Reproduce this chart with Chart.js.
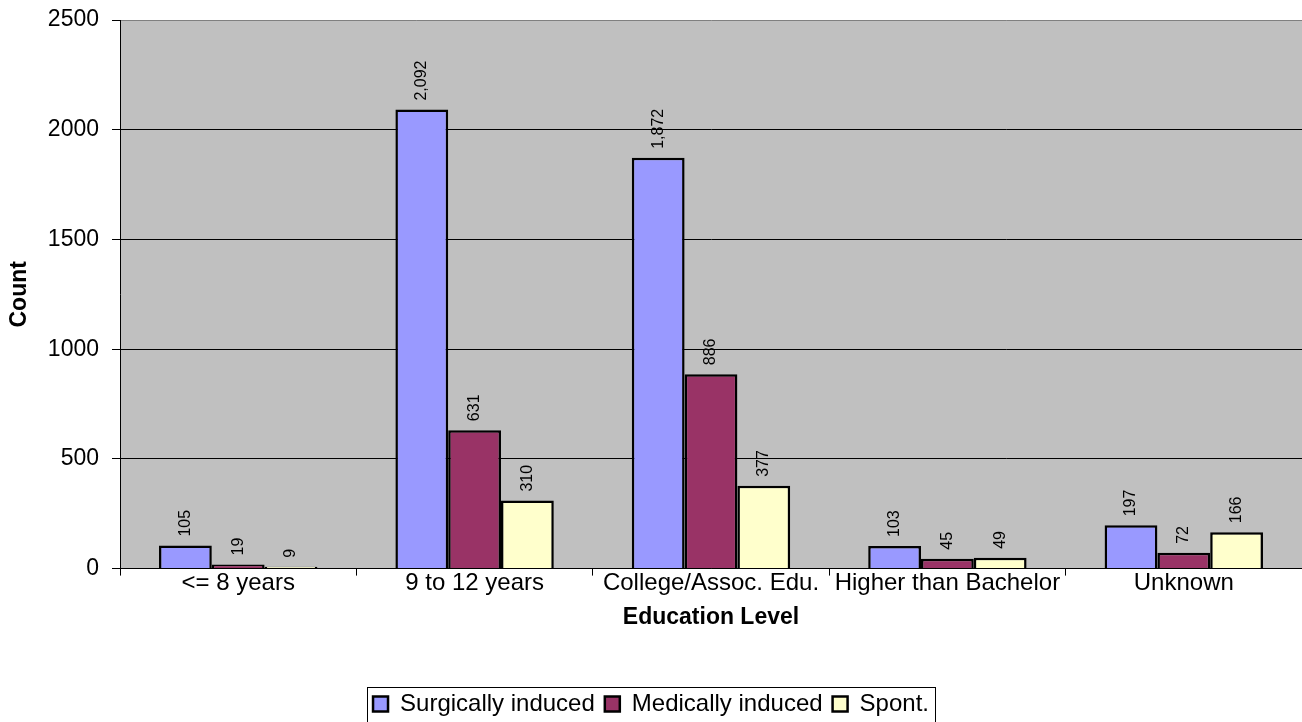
<!DOCTYPE html>
<html>
<head>
<meta charset="utf-8">
<script src="https://cdn.jsdelivr.net/npm/chart.js@4.4.1/dist/chart.umd.min.js"></script>
<style>
  html, body { margin: 0; padding: 0; background: #fff; }
  #wrap { width: 1302px; height: 722px; }
</style>
</head>
<body>
<div id="wrap"><canvas id="eduChart"></canvas></div>
<script>
const categories = ["<= 8 years", "9 to 12 years", "College/Assoc. Edu.", "Higher than Bachelor", "Unknown"];
const surgical = [105, 2092, 1872, 103, 197];
const medical = [19, 631, 886, 45, 72];
const spont = [9, 310, 377, 49, 166];
const yTicks = [0, 500, 1000, 1500, 2000, 2500];

const FONT = "'Liberation Sans', Arial, sans-serif";

// grey plot area + legend frame
const plotBg = {
    id: "plotBg",
    beforeDraw(chart) {
        const a = chart.chartArea;
        const ctx = chart.ctx;
        ctx.save();
        ctx.fillStyle = "#C0C0C0";
        ctx.fillRect(a.left, a.top, a.right - a.left, a.bottom - a.top);
        ctx.restore();
    },
    afterDraw(chart) {
        const lg = chart.legend;
        const boxes = lg.legendHitBoxes;
        if (!boxes || !boxes.length) return;
        const first = boxes[0];
        const last = boxes[boxes.length - 1];
        const ctx = chart.ctx;
        ctx.save();
        ctx.strokeStyle = "#000";
        ctx.lineWidth = 1;
        const x0 = Math.round(first.left - 6) + 0.5;
        const x1 = Math.round(last.left + last.width + 6) + 0.5;
        const y0 = Math.round(first.top - 5) + 0.5;
        ctx.strokeRect(x0, y0, x1 - x0, 60);
        ctx.restore();
    }
};

// rotated value labels above bars
const barLabels = {
    id: "barLabels",
    afterDatasetsDraw(chart) {
        const ctx = chart.ctx;
        ctx.save();
        ctx.font = "16px " + FONT;
        ctx.fillStyle = "#000";
        ctx.textAlign = "left";
        ctx.textBaseline = "middle";
        chart.data.datasets.forEach((ds, i) => {
            chart.getDatasetMeta(i).data.forEach((bar, j) => {
                ctx.save();
                ctx.translate(bar.x, bar.y - 9);
                ctx.rotate(-Math.PI / 2);
                ctx.fillText(ds.data[j].toLocaleString("en-US"), 0, 0);
                ctx.restore();
            });
        });
        ctx.restore();
    }
};

new Chart(document.getElementById("eduChart"), {
    type: "bar",
    data: {
        labels: categories,
        datasets: [
            { label: "Surgically induced", data: surgical, backgroundColor: "#9999FF", borderColor: "#000", borderWidth: 2.5 },
            { label: "Medically induced", data: medical, backgroundColor: "#993366", borderColor: "#000", borderWidth: 2.5 },
            { label: "Spont.", data: spont, backgroundColor: "#FFFFCC", borderColor: "#000", borderWidth: 2.5 }
        ]
    },
    options: {
        responsive: true,
        maintainAspectRatio: false,
        animation: false,
        layout: { padding: { top: 20, right: 0, left: 0, bottom: -4 } },
        datasets: {
            bar: { categoryPercentage: 0.67, barPercentage: 1.0 }
        },
        plugins: {
            legend: {
                position: "bottom",
                labels: {
                    font: { family: FONT, size: 24 },
                    color: "#000",
                    boxWidth: 15,
                    boxHeight: 15,
                    padding: 10
                }
            },
            tooltip: { enabled: false }
        },
        scales: {
            x: {
                grid: { drawOnChartArea: false, tickLength: 7, color: "#000", offset: true },
                border: { color: "#000", width: 1 },
                ticks: {
                    color: "#000",
                    font: { family: FONT, size: 24 },
                    maxRotation: 0,
                    autoSkip: false,
                    padding: -7
                },
                title: {
                    display: true,
                    text: "Education Level",
                    color: "#000",
                    font: { family: FONT, size: 23, weight: "bold" },
                    padding: { top: 13, bottom: 51 }
                }
            },
            y: {
                min: 0,
                max: 2500,
                afterBuildTicks(scale) {
                    scale.ticks = yTicks.map(v => ({ value: v }));
                },
                afterFit(scale) {
                    scale.width = 120;
                    scale.paddingTop = 0;
                    scale.paddingBottom = 0;
                },
                grid: {
                    color: ctx => (ctx.tick && ctx.tick.value === 2500 ? "#808080" : "#000"),
                    tickLength: 8,
                    tickColor: "#000"
                },
                border: { color: "#000", width: 1 },
                ticks: {
                    color: "#000",
                    font: { family: FONT, size: 23 },
                    padding: 13,
                    callback: v => String(v)
                },
                title: {
                    display: true,
                    text: "Count",
                    color: "#000",
                    font: { family: FONT, size: 23, weight: "bold" },
                    padding: 6
                }
            }
        }
    },
    plugins: [plotBg, barLabels]
});
</script>
</body>
</html>
